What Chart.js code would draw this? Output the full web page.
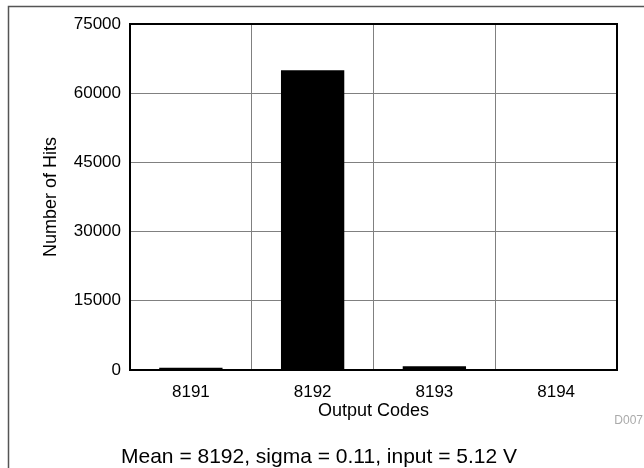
<!DOCTYPE html>
<html>
<head>
<meta charset="utf-8">
<script src="https://cdn.jsdelivr.net/npm/chart.js@4"></script>
<style>
  html, body { margin: 0; padding: 0; background: #fff; }
  #wrap { width: 644px; height: 468px; }
</style>
</head>
<body>
<div id="wrap"><canvas id="histChart" width="644" height="468"></canvas></div>
<script>
// histogram of output codes
const outputCodes = ['8191', '8192', '8193', '8194'];
const numberOfHits = [500, 65000, 800, 60];
const yTickValues = [0, 15000, 30000, 45000, 60000, 75000];
const footnote = 'Mean = 8192, sigma = 0.11, input = 5.12 V';
const figureId = 'D007';

const fontFamily = '"Liberation Sans", Arial, Helvetica, sans-serif';

// frame around the figure, box around the plot, footnote texts
const framePlugin = {
    id: 'framePlugin',
    beforeDraw(chart) {
        const ctx = chart.ctx;
        ctx.save();
        ctx.strokeStyle = '#555';
        ctx.lineWidth = 1.5;
        ctx.beginPath();
        ctx.moveTo(8.5, 468);
        ctx.lineTo(8.5, 6.5);
        ctx.lineTo(644, 6.5);
        ctx.stroke();
        ctx.restore();
    },
    afterDraw(chart) {
        const ctx = chart.ctx;
        const a = chart.chartArea;
        ctx.save();
        ctx.strokeStyle = '#000';
        ctx.lineWidth = 2;
        ctx.strokeRect(a.left, a.top, a.right - a.left, a.bottom - a.top);

        ctx.fillStyle = '#aaa';
        ctx.font = '12px ' + fontFamily;
        ctx.textAlign = 'right';
        ctx.textBaseline = 'middle';
        ctx.fillText(figureId, 643, 421);

        ctx.fillStyle = '#000';
        ctx.font = '21px ' + fontFamily;
        ctx.textAlign = 'center';
        ctx.textBaseline = 'alphabetic';
        ctx.fillText(footnote, 319, 463);
        ctx.restore();
    }
};

const ctx = document.getElementById('histChart').getContext('2d');
new Chart(ctx, {
    type: 'bar',
    data: {
        labels: outputCodes,
        datasets: [{
            label: 'Number of Hits',
            data: numberOfHits,
            backgroundColor: '#000',
            borderWidth: 0,
            barPercentage: 0.52,
            categoryPercentage: 1.0
        }]
    },
    options: {
        responsive: false,
        animation: false,
        layout: { padding: { top: 24, right: 27, bottom: 46, left: 40 } },
        plugins: {
            legend: { display: false },
            tooltip: { enabled: false }
        },
        scales: {
            x: {
                grid: { color: '#808080', lineWidth: 1, drawTicks: false, offset: true },
                border: { display: false },
                ticks: { color: '#000', font: { family: fontFamily, size: 17 }, padding: 12 },
                title: { display: true, text: 'Output Codes', color: '#000', font: { family: fontFamily, size: 18 }, padding: 0 },
                afterFit(scale) { scale.height = 52; }
            },
            y: {
                min: 0,
                max: 75000,
                afterBuildTicks(scale) { scale.ticks = yTickValues.map(v => ({ value: v })); },
                grid: { color: '#808080', lineWidth: 1, drawTicks: false },
                border: { display: false },
                ticks: {
                    color: '#000',
                    font: { family: fontFamily, size: 17 },
                    padding: 9,
                    callback: (value) => String(value)
                },
                title: { display: true, text: 'Number of Hits', color: '#000', font: { family: fontFamily, size: 18 }, padding: 0 },
                afterFit(scale) { scale.width = 90; }
            }
        }
    },
    plugins: [framePlugin]
});
</script>
</body>
</html>
